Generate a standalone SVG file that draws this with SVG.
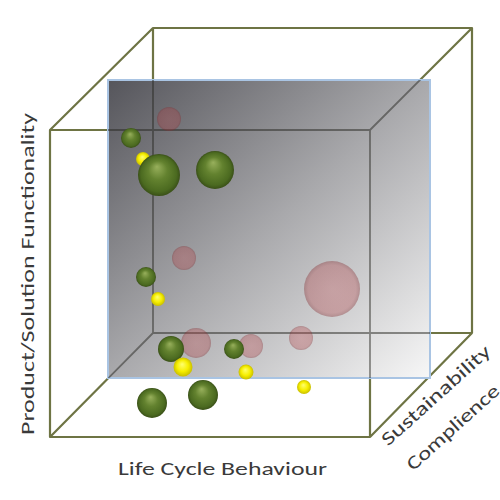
<svg xmlns="http://www.w3.org/2000/svg" width="500" height="500" viewBox="0 0 500 500">
<defs>
<linearGradient id="panelG" x1="0" y1="0" x2="1" y2="1">
<stop offset="0" stop-color="#55555b"/>
<stop offset="0.5" stop-color="#a9a9ac"/>
<stop offset="1" stop-color="#f7f7f7"/>
</linearGradient>
<radialGradient id="greenG" cx="0.5" cy="0.5" r="0.5" fx="0.45" fy="0.3">
<stop offset="0" stop-color="#98b05c"/>
<stop offset="0.45" stop-color="#63822f"/>
<stop offset="0.85" stop-color="#4b6a20"/>
<stop offset="1" stop-color="#3a5018"/>
</radialGradient>
<radialGradient id="yellowG" cx="0.5" cy="0.5" r="0.5" fx="0.45" fy="0.35">
<stop offset="0" stop-color="#ffff70"/>
<stop offset="0.6" stop-color="#f6ee00"/>
<stop offset="1" stop-color="#c9bf00"/>
</radialGradient>
<radialGradient id="pinkG" cx="0.5" cy="0.5" r="0.5">
<stop offset="0" stop-color="#c04448" stop-opacity="0.3"/>
<stop offset="0.85" stop-color="#b03c40" stop-opacity="0.33"/>
<stop offset="1" stop-color="#802a2e" stop-opacity="0.4"/>
</radialGradient>
<clipPath id="panelClip"><rect x="108" y="80" width="322" height="298"/></clipPath>
</defs>
<style>
.edge{fill:none;stroke:#6e7444;stroke-width:2.2;stroke-linejoin:round}
.inner{fill:none;stroke:#262620;stroke-opacity:0.5;stroke-width:1.8}
.green{fill:url(#greenG)}
.yellow{fill:url(#yellowG)}
.pink{fill:url(#pinkG)}
.lbl{font-family:Calibri,Carlito,"Open Sans","Liberation Sans",sans-serif;font-size:19px;fill:#3a3a3a}
</style>
<g id="cube" class="edge">
<path d="M50,130 H370 V437 H50 Z M153,28 H472 V333 H153 Z M50,130 L153,28 M370,130 L472,28 M50,437 L153,333 M370,437 L472,333"/>
</g>
<g id="panel">
<rect x="108" y="80" width="322" height="298" fill="url(#panelG)" stroke="#a9c4e3" stroke-width="2"/>
</g>
<g id="connectors" clip-path="url(#panelClip)">
<path class="inner" d="M50,130 H370 V437 M153,28 V333 H472 M50,437 L153,333 M370,130 L472,28"/>
</g>
<g id="pink-bubbles">
<circle class="pink" cx="169" cy="119" r="12"/>
<circle class="pink" cx="184" cy="258" r="12"/>
<circle class="pink" cx="332" cy="289" r="28"/>
<circle class="pink" cx="196" cy="343" r="15"/>
<circle class="pink" cx="251" cy="346" r="12"/>
<circle class="pink" cx="301" cy="338" r="12"/>
</g>
<g id="yellow-back">
<circle class="yellow" cx="143" cy="159" r="7"/>
</g>
<g id="green-bubbles">
<circle class="green" cx="131" cy="138" r="10"/>
<circle class="green" cx="159" cy="175" r="21"/>
<circle class="green" cx="215" cy="170" r="19"/>
<circle class="green" cx="146" cy="277" r="10"/>
<circle class="green" cx="171" cy="349" r="13"/>
<circle class="green" cx="234" cy="349" r="10"/>
<circle class="green" cx="152" cy="403" r="15"/>
<circle class="green" cx="203" cy="395" r="15"/>
</g>
<g id="yellow-bubbles">
<circle class="yellow" cx="158" cy="299" r="7"/>
<circle class="yellow" cx="183" cy="367" r="9.5"/>
<circle class="yellow" cx="246" cy="372" r="7.5"/>
<circle class="yellow" cx="304" cy="387" r="7"/>
</g>
<g id="labels">
<text class="lbl" transform="translate(34,274) rotate(-90)" text-anchor="middle" textLength="322" lengthAdjust="spacingAndGlyphs">Product/Solution Functionality</text>
<text class="lbl" x="118" y="475" textLength="209" lengthAdjust="spacingAndGlyphs">Life Cycle Behaviour</text>
<text class="lbl" transform="translate(440,400) rotate(-42)" text-anchor="middle" textLength="140" lengthAdjust="spacingAndGlyphs">Sustainability</text>
<text class="lbl" transform="translate(457,432) rotate(-42)" text-anchor="middle" textLength="118" lengthAdjust="spacingAndGlyphs">Complience</text>
</g>
</svg>
